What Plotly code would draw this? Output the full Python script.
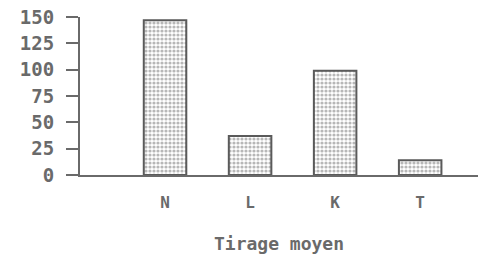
import plotly.graph_objects as go

categories = ["N", "L", "K", "T"]
values = [147, 37, 99, 14]
y_ticks = [0, 25, 50, 75, 100, 125, 150]
x_title = "Tirage moyen"

FONT = "DejaVu Sans Mono"
GRAY = "#6a6a6a"

fig = go.Figure(go.Bar(
    x=categories, y=values, width=0.5,
    marker=dict(
        color="white",
        line=dict(color="#5a5a5a", width=2),
        pattern=dict(shape=".", fgcolor="#707070", bgcolor="white", size=4, solidity=0.5),
    ),
))

fig.update_layout(
    width=478, height=254,
    margin=dict(l=80, r=0, t=17, b=79),
    paper_bgcolor="white", plot_bgcolor="white",
    showlegend=False,
    font=dict(family=FONT, color=GRAY, size=17),
)
fig.update_xaxes(
    type="category", range=[-1, 3.68], automargin=False,
    showline=True, linecolor=GRAY, linewidth=2,
    showgrid=False, ticks="", ticklabelstandoff=12,
    tickfont=dict(family=FONT, size=16, color=GRAY, weight="bold"),
    title=dict(text=x_title, font=dict(family=FONT, size=18, color=GRAY, weight="bold"), standoff=28),
)
fig.update_yaxes(
    range=[0, 150], tickvals=y_ticks, automargin=False,
    showline=True, linecolor=GRAY, linewidth=2,
    showgrid=False, zeroline=False,
    ticks="outside", ticklen=12, tickwidth=2, tickcolor=GRAY,
    ticklabelstandoff=8,
    tickfont=dict(family=FONT, size=19, color=GRAY, weight="bold"),
)

fig.write_html(
    "out.html",
    config={"displayModeBar": False},
    post_script="document.body.style.margin='0';document.body.style.overflow='hidden';",
)
